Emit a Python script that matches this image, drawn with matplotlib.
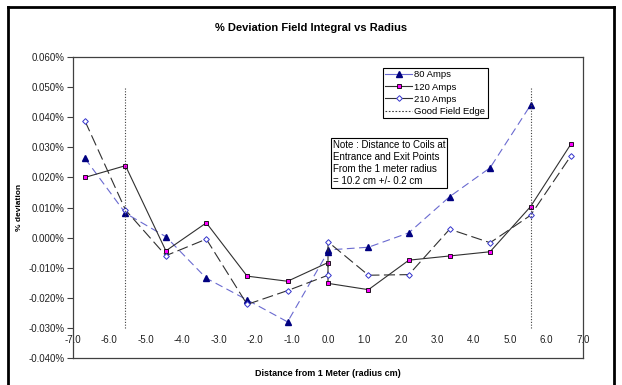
import numpy as np
import matplotlib
matplotlib.use("Agg")
from matplotlib import pyplot as plt
from matplotlib.lines import Line2D

plt.rcParams["font.family"] = ["Liberation Sans", "DejaVu Sans"]

# radius positions (cm); x=0 appears twice because two readings were taken there
radius = [-6.67, -5.56, -4.45, -3.34, -2.22, -1.11, 0.0, 0.0, 1.11, 2.22, 3.34, 4.45, 5.56, 6.67]
amps_80 = [0.0263, 0.0081, 0.0003, -0.0135, -0.0207, -0.0280, -0.0047, -0.0041,
           -0.0032, 0.0016, 0.0136, 0.0232, 0.0440, np.nan]
amps_120 = [0.0200, 0.0239, -0.0044, 0.0049, -0.0128, -0.0145, -0.0083, -0.0152,
            -0.0173, -0.0075, -0.0061, -0.0047, 0.0103, 0.0311]
amps_210 = [0.0387, 0.0092, -0.0060, -0.0005, -0.0222, -0.0176, -0.0125, -0.0014,
            -0.0125, -0.0123, 0.0028, -0.0017, 0.0074, 0.0272]
edge_x = [-5.56, 5.56]
edge_y = [-0.030, 0.050]

x_ticks = [-7.0, -6.0, -5.0, -4.0, -3.0, -2.0, -1.0, 0.0, 1.0, 2.0, 3.0, 4.0, 5.0, 6.0, 7.0]
y_ticks = [-0.040, -0.030, -0.020, -0.010, 0.000, 0.010, 0.020, 0.030, 0.040, 0.050, 0.060]

note = ("Note : Distance to Coils at\nEntrance and Exit Points\n"
        "From the 1 meter radius\n= 10.2 cm +/- 0.2 cm")

fig = plt.figure(figsize=(6.22, 3.85), dpi=100)
ax = fig.add_axes([73 / 622, 1 - 358 / 385, 510 / 622, 301 / 385])

# outer chart border (thick black, bottom runs off the image)
fig.add_artist(Line2D([8 / 622, 8 / 622], [-0.1, 1 - 7 / 385], color="black", lw=2.0))
fig.add_artist(Line2D([8 / 622, 614 / 622], [1 - 7 / 385, 1 - 7 / 385], color="black", lw=2.0))
fig.add_artist(Line2D([614 / 622, 614 / 622], [-0.1, 1 - 7 / 385], color="black", lw=2.0))

ax.plot(radius, amps_80, color="#6a6ad0", lw=0.8, dashes=(7, 4),
        marker="^", ms=4.0, mfc="#000080", mec="#000080", label="80 Amps")
ax.plot(radius, amps_120, color="#303030", lw=0.8,
        marker="s", ms=3.2, mfc="#ff00ff", mec="#000000", mew=0.6, label="120 Amps")
ax.plot(radius, amps_210, color="#303030", lw=0.8, dashes=(10, 4),
        marker="D", ms=2.9, mfc="white", mec="#3333cc", mew=0.7, label="210 Amps")
for xe in edge_x:
    ax.plot([xe, xe], edge_y, color="#404040", lw=0.8, ls=(0, (1, 1.5)))

ax.set_xlim(-7, 7)
ax.set_ylim(-0.040, 0.060)
ax.set_yticks(y_ticks)
ax.set_yticklabels([f"{v:.3f}%" for v in y_ticks], fontsize=7, color="#202020")
ax.set_xticks([])
for xt in x_ticks:
    ax.text(xt, -0.034, f"{xt:.1f}", ha="center", va="center", fontsize=7, color="#202020")
ax.tick_params(axis="y", length=4, width=0.8, color="#404040", pad=2)
for sp in ax.spines.values():
    sp.set_color("#404040")
    sp.set_linewidth(0.9)

ax.set_ylabel("% deviation", fontsize=6, fontweight="bold")
ax.yaxis.set_label_coords(-0.098, 0.5)
ax.set_xlabel("Distance from 1 Meter (radius cm)", fontsize=6.5, fontweight="bold", labelpad=8)
fig.text(311 / 622, 1 - 28 / 385, "% Deviation Field Integral vs Radius",
         ha="center", va="center", fontsize=8, fontweight="bold")

handles = [
    Line2D([], [], color="#6a6ad0", lw=0.8, marker="^", ms=4.0, mfc="#000080", mec="#000080"),
    Line2D([], [], color="#303030", lw=0.8, marker="s", ms=3.2, mfc="#ff00ff", mec="black", mew=0.6),
    Line2D([], [], color="#303030", lw=0.8, marker="D", ms=2.9, mfc="white", mec="#3333cc", mew=0.7),
    Line2D([], [], color="#404040", lw=0.8, ls=(0, (1.5, 1.5))),
]
leg = ax.legend(handles, ["80 Amps", "120 Amps", "210 Amps", "Good Field Edge"],
                loc="upper left", bbox_to_anchor=(0.607, 0.963), fontsize=6.8,
                fancybox=False, framealpha=1, edgecolor="black", borderpad=0.25,
                labelspacing=0.33, handlelength=2.9, handletextpad=0.2, borderaxespad=0)
leg.get_frame().set_linewidth(0.8)

ax.text(0.509, 0.725, note, transform=ax.transAxes, ha="left", va="top", fontsize=7,
        linespacing=1.25,
        bbox=dict(boxstyle="square,pad=0.2", fc="white", ec="black", lw=0.8))

fig.savefig("out.png", dpi=100)
